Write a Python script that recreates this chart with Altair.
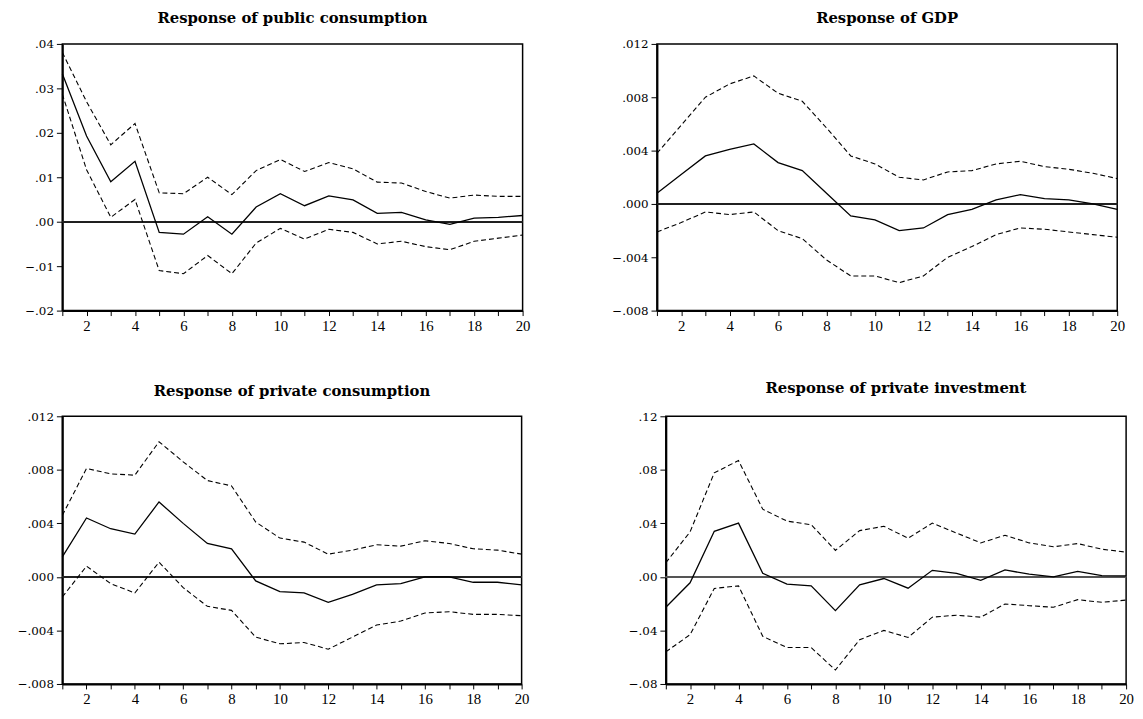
import altair as alt
import pandas as pd

steps = list(range(1, 21))

# Response of public consumption
pub_resp = [.0333, .0193, .0090, .0136, -.0024, -.0028, .0011, -.0028, .0033, .0063,
            .0036, .0058, .0049, .0019, .0021, .0004, -.0006, .0008, .0010, .0014]
pub_upper = [.0381, .0270, .0173, .0221, .0065, .0063, .0100, .0061, .0115, .0140,
             .0113, .0133, .0119, .0089, .0087, .0068, .0053, .0060, .0057, .0057]
pub_lower = [.0287, .0117, .0010, .0050, -.0110, -.0117, -.0076, -.0117, -.0048, -.0015,
             -.0039, -.0017, -.0024, -.0050, -.0044, -.0056, -.0063, -.0044, -.0037, -.0030]

# Response of GDP
gdp_resp = [.0008, .0022, .0036, .0041, .0045, .0031, .0025, .0008, -.0009, -.0012,
            -.0020, -.0018, -.0008, -.0004, .0003, .0007, .0004, .0003, .0000, -.0004]
gdp_upper = [.0038, .0059, .0080, .0090, .0096, .0083, .0077, .0057, .0036, .0030,
             .0020, .0018, .0024, .0025, .0030, .0032, .0028, .0026, .0023, .0019]
gdp_lower = [-.0021, -.0014, -.0006, -.0008, -.0006, -.0020, -.0026, -.0042, -.0054, -.0054,
             -.0059, -.0054, -.0040, -.0032, -.0023, -.0018, -.0019, -.0021, -.0023, -.0025]

# Response of private consumption
pc_resp = [.0015, .0044, .0036, .0032, .0056, .0040, .0025, .0021, -.0003, -.0011,
           -.0012, -.0019, -.0013, -.0006, -.0005, .0000, .0000, -.0004, -.0004, -.0006]
pc_upper = [.0046, .0081, .0077, .0076, .0101, .0086, .0072, .0068, .0041, .0029,
            .0026, .0017, .0020, .0024, .0023, .0027, .0025, .0021, .0020, .0017]
pc_lower = [-.0015, .0008, -.0005, -.0012, .0011, -.0008, -.0022, -.0025, -.0045, -.0050,
            -.0049, -.0054, -.0045, -.0036, -.0033, -.0027, -.0026, -.0028, -.0028, -.0029]

# Response of private investment
pi_resp = [-.0227, -.0044, .0341, .0402, .0027, -.0054, -.0067, -.0252, -.0059, -.0012,
           -.0084, .0049, .0027, -.0025, .0052, .0020, .0000, .0042, .0010, .0007]
pi_upper = [.0106, .0336, .0778, .0869, .0506, .0417, .0390, .0198, .0346, .0378,
            .0289, .0402, .0328, .0254, .0311, .0254, .0225, .0249, .0207, .0185]
pi_lower = [-.0560, -.0432, -.0086, -.0067, -.0444, -.0528, -.0528, -.0696, -.0469, -.0400,
            -.0452, -.0301, -.0286, -.0301, -.0202, -.0215, -.0227, -.0170, -.0190, -.0173]

titles = ["Response of public consumption", "Response of GDP",
          "Response of private consumption", "Response of private investment"]
y_ticks_pub = [-.02, -.01, .00, .01, .02, .03, .04]
y_ticks_small = [-.008, -.004, .000, .004, .008, .012]
y_ticks_pi = [-.08, -.04, .00, .04, .08, .12]


def panel(title, resp, upper, lower, domain, ticks, decimals, width, height,
          extent, toff, zero_color="#222222"):
    rows = []
    for name, vals in (("resp", resp), ("upper", upper), ("lower", lower)):
        for s, v in zip(steps, vals):
            rows.append({"step": s, "series": name, "value": v})
    df = pd.DataFrame(rows)
    fmt = f".{decimals}f"
    x = alt.X(
        "step:Q",
        scale=alt.Scale(domain=[1, 20], nice=False, zero=False),
        axis=alt.Axis(
            values=steps, title=None, grid=False,
            labelExpr="datum.value % 2 == 0 ? datum.label : ''",
            tickSize=5, tickWidth=1, tickColor="black",
            labelPadding=3, labelFont="Liberation Serif", labelFontSize=15,
            labelColor="black", domainColor="black", domainWidth=2,
            labelFlush=False, labelOverlap=False,
        ),
    )
    y = alt.Y(
        "value:Q",
        scale=alt.Scale(domain=domain, nice=False, zero=False),
        axis=alt.Axis(
            values=ticks, title=None, grid=False,
            labelExpr=f"replace(format(datum.value, '{fmt}'), '0.', '.')",
            tickSize=6, tickWidth=1, tickColor="black",
            labelPadding=3, labelFont="DejaVu Serif", labelFontSize=12,
            labelColor="black", domainColor="black", domainWidth=2,
            labelOverlap=False, labelFlush=False,
            minExtent=extent, maxExtent=extent,
        ),
    )
    base = alt.Chart(df)
    dashed = base.transform_filter(
        "datum.series != 'resp'"
    ).mark_line(color="black", strokeWidth=1.1, strokeDash=[5, 3]).encode(
        x=x, y=y, detail="series:N"
    )
    solid = base.transform_filter(
        "datum.series == 'resp'"
    ).mark_line(color="black", strokeWidth=1.3).encode(x=x, y=y)
    zero = alt.Chart(df).mark_rule(color=zero_color, strokeWidth=1).encode(
        y=alt.datum(0)
    )
    return alt.layer(zero, dashed, solid).properties(
        width=width, height=height,
        title=alt.TitleParams(
            text=title, font="DejaVu Serif", fontSize=15, fontWeight="bold",
            anchor="middle", frame="group", baseline="alphabetic",
            offset=toff, color="black",
        ),
    )


p1 = panel(titles[0], pub_resp, pub_upper, pub_lower, [-.02, .04], y_ticks_pub, 2,
           466, 270, 54, 0)
p2 = panel(titles[1], gdp_resp, gdp_upper, gdp_lower, [-.008, .012], y_ticks_small, 3,
           466, 270, 45, 0)
p3 = panel(titles[2], pc_resp, pc_upper, pc_lower, [-.008, .012], y_ticks_small, 3,
           465, 271, 51, 0)
p4 = panel(titles[3], pi_resp, pi_upper, pi_lower, [-.08, .12], y_ticks_pi, 2,
           466, 271, 45, 3, zero_color="#555555")

row1 = alt.hconcat(p1, p2, spacing=80)
row2 = alt.hconcat(p3, p4, spacing=91)

chart = alt.vconcat(row1, row2, spacing=46).properties(
    padding={"left": 0, "top": -2, "right": 0, "bottom": 0}
).configure(
    background="white",
    view=alt.ViewConfig(stroke="black", strokeWidth=1.5),
)

chart.save("out.html", embed_options={"renderer": "svg", "actions": False})
